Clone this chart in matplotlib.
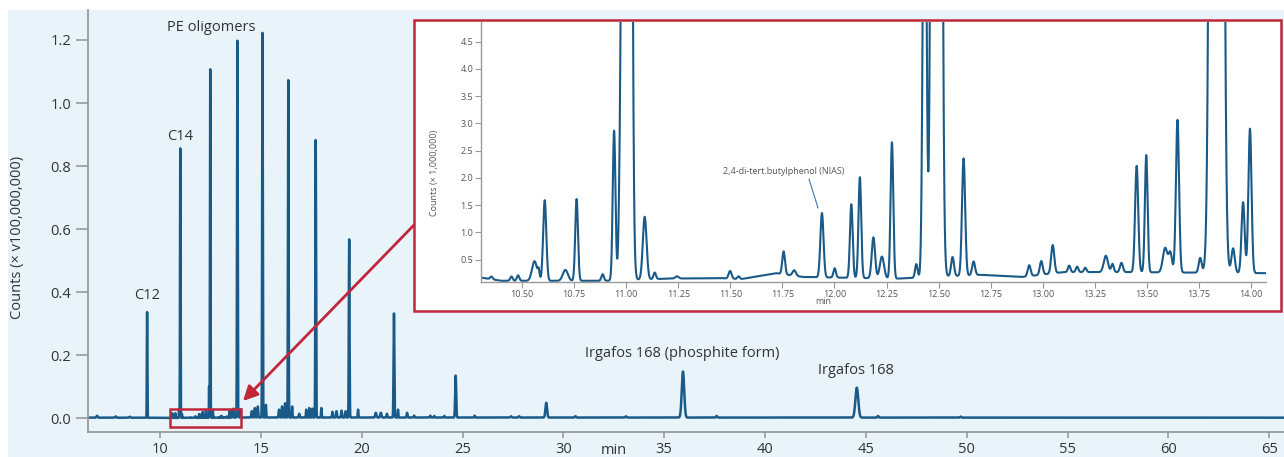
import numpy as np
import matplotlib.pyplot as plt
from matplotlib.patches import Rectangle

plt.rcParams['font.family'] = ['Open Sans', 'DejaVu Sans']

# ---------------- data ----------------
# main peaks: retention time (min), height (x 100,000,000 counts), sigma (min)
major_rt = [9.36, 11.004, 12.490, 13.835, 15.08, 16.36, 17.72, 19.38, 21.60, 24.66, 29.15, 35.93, 44.55]
major_h = [0.335, 0.855, 1.105, 1.195, 1.22, 1.07, 0.88, 0.565, 0.33, 0.133, 0.047, 0.146, 0.095]
major_w = [0.012, 0.0121, 0.0129, 0.0164, 0.016, 0.016, 0.017, 0.018, 0.02, 0.025, 0.04, 0.06, 0.07]

# small peaks seen in the full run (x 100,000,000 counts)
small_rt = [6.88, 7.8, 8.5, 14.55, 14.7, 14.85, 15.25, 15.9, 16.05, 16.2, 16.55, 16.9, 17.25, 17.4,
            17.55, 18.0, 18.55, 18.75, 19.0, 19.2, 19.82, 20.7, 20.95, 21.25, 21.8, 22.25, 22.6,
            23.4, 23.6, 24.1, 25.6, 27.4, 27.8, 30.6, 33.1, 37.6, 45.6, 49.7]
small_h = [0.006, 0.004, 0.003, 0.02, 0.03, 0.035, 0.04, 0.025, 0.035, 0.045, 0.035, 0.012, 0.025, 0.03,
           0.028, 0.03, 0.018, 0.02, 0.022, 0.02, 0.025, 0.015, 0.015, 0.012, 0.025, 0.015, 0.006,
           0.006, 0.005, 0.005, 0.006, 0.004, 0.004, 0.004, 0.004, 0.005, 0.005, 0.003]
small_w = [0.03, 0.03, 0.03, 0.02, 0.02, 0.02, 0.015, 0.02, 0.02, 0.015, 0.015, 0.02, 0.015, 0.015,
           0.015, 0.015, 0.02, 0.02, 0.02, 0.02, 0.015, 0.03, 0.03, 0.02, 0.015, 0.02, 0.02,
           0.02, 0.02, 0.02, 0.02, 0.03, 0.03, 0.03, 0.03, 0.03, 0.03, 0.03]

# zoomed region peaks 10.3 - 14.07 min (x 1,000,000 counts)
zoom_rt = [10.353, 10.449, 10.481, 10.560, 10.580, 10.609, 10.708, 10.762, 10.887, 10.942, 10.972,
           11.089, 11.137, 11.244, 11.499, 11.54, 11.756, 11.807, 11.940, 12.001, 12.081, 12.122,
           12.187, 12.228, 12.276, 12.393, 12.433, 12.567, 12.620, 12.668, 12.935, 12.993, 13.048,
           13.127, 13.165, 13.204, 13.303, 13.335, 13.378, 13.451, 13.497, 13.588, 13.613, 13.647,
           13.756, 13.914, 13.962, 13.995]
zoom_h = [0.05, 0.08, 0.10, 0.36, 0.15, 1.48, 0.20, 1.50, 0.12, 2.75, 1.6,
          1.15, 0.12, 0.04, 0.14, 0.05, 0.42, 0.10, 1.18, 0.17, 1.35, 1.85,
          0.75, 0.40, 2.5, 0.25, 10.0, 0.35, 2.15, 0.25, 0.2, 0.25, 0.52,
          0.12, 0.10, 0.08, 0.3, 0.15, 0.17, 1.95, 2.15, 0.45, 0.35, 2.8,
          0.27, 0.45, 1.30, 2.65]
zoom_w = [0.006, 0.006, 0.006, 0.012, 0.004, 0.0075, 0.012, 0.0065, 0.006, 0.0065, 0.007,
          0.009, 0.006, 0.008, 0.007, 0.006, 0.0065, 0.008, 0.0075, 0.006, 0.0065, 0.0065,
          0.008, 0.01, 0.0065, 0.006, 0.008, 0.007, 0.0075, 0.007, 0.007, 0.007, 0.0075,
          0.006, 0.006, 0.006, 0.01, 0.006, 0.007, 0.0075, 0.0065, 0.011, 0.008, 0.0075,
          0.007, 0.008, 0.0075, 0.0075]

# baseline (x 1,000,000 counts)
base_t = [6.4, 10.30, 10.40, 10.90, 11.20, 11.45, 11.55, 11.72, 11.85, 12.30, 12.70, 12.90, 13.10, 13.40, 14.07, 65.8]
base_v = [0.20, 0.17, 0.11, 0.11, 0.15, 0.16, 0.14, 0.25, 0.18, 0.15, 0.22, 0.18, 0.27, 0.27, 0.25, 0.20]

# ---------------- build trace ----------------
t = np.arange(6.4, 65.8, 0.001)
sig = np.interp(t, base_t, base_v)  # in millions
for rt, h, w in zip(major_rt, major_h, major_w):
    sig += h * 100 * np.exp(-(t - rt) ** 2 / (2 * w ** 2))
for rt, h, w in zip(small_rt, small_h, small_w):
    sig += h * 100 * np.exp(-(t - rt) ** 2 / (2 * w ** 2))
for rt, h, w in zip(zoom_rt, zoom_h, zoom_w):
    sig += h * np.exp(-(t - rt) ** 2 / (2 * w ** 2))

blue = '#1a5a88'
red = '#c0283a'
gray = '#9a9a9a'
txt = '#333333'

W, H = 1284, 457
fig = plt.figure(figsize=(W / 100, H / 100), dpi=100)
fig.patches.append(Rectangle((8 / W, 0), 1, 1 - 10 / H, transform=fig.transFigure,
                             facecolor='#e8f4f9', edgecolor='none', zorder=-10))

# ---------------- main chart ----------------
ax = fig.add_axes([88 / W, 1 - 432 / H, (W - 88) / W, 422 / H])
ax.patch.set_visible(False)
ax.plot(t, sig / 100, color=blue, lw=1.8, solid_joinstyle='round')
ax.set_xlim(6.43, 65.73)
ax.set_ylim(-0.0435, 1.295)
ax.set_xticks(np.arange(10, 66, 5))
ax.set_yticks(np.arange(0, 1.21, 0.2))
ax.set_yticklabels([f'{v:.1f}' for v in np.arange(0, 1.21, 0.2)])
for s in ['top', 'right']:
    ax.spines[s].set_visible(False)
for s in ['left', 'bottom']:
    ax.spines[s].set_color(gray)
    ax.spines[s].set_linewidth(1.3)
ax.tick_params(axis='y', length=9, width=1.2, color=gray, labelsize=10.5, labelcolor=txt, pad=3)
ax.tick_params(axis='x', length=4, width=1.2, color=gray, labelsize=10.5, labelcolor=txt, pad=3)

ax.text(9.36, 0.391, 'C12', ha='center', va='center', fontsize=10.5, color=txt)
ax.text(11.0, 0.895, 'C14', ha='center', va='center', fontsize=10.5, color=txt)
ax.text(12.53, 1.238, 'PE oligomers', ha='center', va='center', fontsize=10.5, color=txt)
ax.text(35.9, 0.204, 'Irgafos 168 (phosphite form)', ha='center', va='center', fontsize=10.5, color=txt)
ax.text(44.5, 0.150, 'Irgafos 168', ha='center', va='center', fontsize=10.5, color=txt)

fig.text(18 / W, 1 - 237 / H, 'Counts (× v100,000,000)', rotation=90, ha='center', va='center',
         fontsize=10.5, color=txt)
fig.text(614 / W, 1 - 450 / H, 'min', ha='center', va='center', fontsize=10.5, color=txt)

# zoom box on main chart and arrow
ax.add_patch(Rectangle((10.5, -0.027), 3.5, 0.057, facecolor='none', edgecolor=red, lw=1.8, zorder=5))
ax.add_patch(Rectangle((414 / W, 1 - 311 / H), 867 / W, 291 / H, transform=fig.transFigure,
                       facecolor='white', edgecolor=red, lw=1.8, clip_on=False, zorder=6))
ax.annotate('', xy=(243 / W, 1 - 401 / H), xycoords='figure fraction',
            xytext=(414 / W, 1 - 225 / H), textcoords='figure fraction',
            arrowprops=dict(arrowstyle='-|>', color=red, lw=2, mutation_scale=22,
                            shrinkA=0, shrinkB=0))

# ---------------- inset ----------------
ai = fig.add_axes([481 / W, 1 - 282 / H, 785 / W, 260 / H], zorder=5)
ai.patch.set_visible(False)
m = (t > 10.25) & (t < 14.1)
ai.plot(t[m], sig[m], color=blue, lw=1.5, solid_joinstyle='round')
ai.set_xlim(10.303, 14.072)
ai.set_ylim(0.088, 4.86)
ai.set_xticks(np.arange(10.5, 14.01, 0.25))
ai.set_xticklabels([f'{v:.2f}' for v in np.arange(10.5, 14.01, 0.25)])
ai.set_yticks(np.arange(0.5, 4.51, 0.5))
ai.set_yticklabels([f'{v:.1f}' for v in np.arange(0.5, 4.51, 0.5)])
for s in ['top', 'right']:
    ai.spines[s].set_visible(False)
for s in ['left', 'bottom']:
    ai.spines[s].set_color(gray)
    ai.spines[s].set_linewidth(1.0)
ai.tick_params(length=4, width=0.8, color=gray, labelsize=6.5, labelcolor='#555555', pad=1.5)

fig.text(435 / W, 1 - 173 / H, 'Counts (× 1,000,000)', rotation=90, ha='center', va='center',
         fontsize=6.5, color='#555555')
fig.text(823 / W, 1 - 302 / H, 'min', ha='center', va='center', fontsize=6.5, color='#555555')
fig.text(784 / W, 1 - 171 / H, '2,4-di-tert.butylphenol (NIAS)', ha='center', va='center',
         fontsize=6.5, color='#555555')
ai.annotate('', xy=(818 / W, 1 - 208 / H), xycoords='figure fraction',
            xytext=(809 / W, 1 - 179 / H), textcoords='figure fraction',
            arrowprops=dict(arrowstyle='-', color='#3a78b0', lw=0.8, shrinkA=0, shrinkB=0))

fig.savefig('out.png', dpi=100)
